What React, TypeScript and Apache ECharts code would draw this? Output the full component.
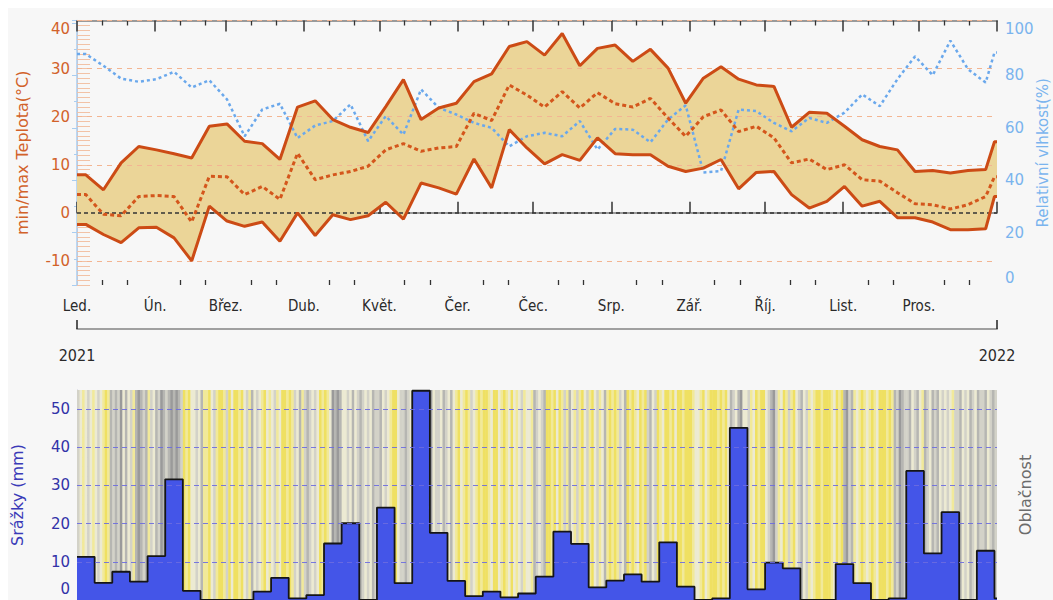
import React, { useEffect, useRef } from 'react';
import * as echarts from 'echarts';

// ---------- labels ----------
const monthNames = ['Led.', 'Ún.', 'Břez.', 'Dub.', 'Květ.', 'Čer.', 'Čec.', 'Srp.', 'Zář.', 'Říj.', 'List.', 'Pros.'];
const yearLabels = ['2021', '2022'];
const tempTicks = [-10, 0, 10, 20, 30, 40];
const precipTicks = [10, 20, 30, 40, 50];

// ---------- weekly data (52 weeks of 2021) ----------
const weeklyMax = [7.9, 4.8, 10.4, 13.8, 13.1, 12.3, 11.4, 18.0, 18.5, 14.9, 14.4, 11.1, 22.0, 23.3, 19.4, 17.8,
  16.7, 22.1, 27.7, 19.4, 21.8, 22.8, 27.3, 28.9, 34.6, 35.6, 32.8, 37.3, 30.6, 34.2, 34.9, 31.5, 34.0, 30.1, 22.8,
  28.0, 30.4, 27.8, 26.6, 26.3, 17.8, 20.9, 20.7, 18.0, 15.2, 13.8, 13.1, 8.6, 8.8, 8.3, 8.8, 9.0];
const weeklyMin = [-2.4, -4.5, -6.2, -3.1, -3.0, -5.2, -10.0, 1.4, -1.7, -2.8, -1.9, -5.9, 0.0, -4.7, -0.4, -1.4,
  -0.6, 2.2, -1.3, 6.2, 5.2, 3.9, 11.2, 5.2, 17.3, 13.5, 10.2, 12.1, 10.9, 15.6, 12.3, 12.1, 12.1, 9.7, 8.6,
  9.3, 11.1, 5.0, 8.4, 8.6, 3.8, 1.0, 2.4, 5.5, 1.4, 2.4, -1.0, -1.0, -1.9, -3.5, -3.5, -3.3];
const weeklyMean = [3.8, -0.3, -0.6, 3.4, 3.6, 3.4, -1.9, 7.6, 7.5, 3.8, 5.5, 2.8, 12.4, 6.9, 7.9, 8.6,
  9.7, 13.1, 14.4, 12.8, 13.5, 13.8, 20.7, 19.2, 26.6, 24.5, 22.0, 25.2, 21.8, 25.0, 22.7, 22.0, 23.8, 19.7, 15.9,
  20.0, 21.4, 16.9, 18.0, 15.6, 10.4, 11.2, 9.0, 10.0, 6.9, 6.6, 4.2, 1.9, 1.7, 0.8, 1.7, 3.4];
const weeklyHumidity = [88.2, 83.7, 78.8, 77.6, 78.6, 81.4, 75.4, 78.2, 70.9, 56.8, 67.0, 69.2, 56.1, 60.9, 62.6, 69.0,
  54.9, 64.5, 57.4, 74.7, 67.7, 65.1, 61.9, 60.0, 52.9, 56.8, 58.1, 56.8, 62.6, 51.7, 59.6, 59.3, 54.5, 63.2, 68.6,
  43.0, 43.5, 67.0, 66.4, 61.9, 58.7, 63.8, 61.9, 65.8, 72.8, 68.3, 78.6, 87.3, 80.1, 93.3, 82.4, 77.3];
const weeklyPrecip = [11.3, 4.5, 7.4, 4.8, 11.5, 31.6, 2.4, 0, 0, 0, 2.2, 5.8, 0.4, 1.3, 14.8, 20.1,
  0, 24.2, 4.4, 54.8, 17.6, 5.0, 1.0, 2.2, 0.7, 1.7, 6.1, 17.9, 14.7, 3.3, 5.1, 6.7, 4.8, 15.1, 3.5,
  0, 0.4, 45.1, 2.8, 9.8, 8.3, 0, 0, 9.4, 4.4, 0, 0.4, 33.8, 12.2, 23.0, 0, 12.9];
// last (partial) period: 31 Dec
const lastMax = 14.8;
const lastMin = 3.4;
const lastMean = 7.5;
const lastHumidity = 88.8;
const lastPrecip = 0.4;

// ---------- daily cloudiness (0 = clear ... 5 = overcast), Jan 1 .. Dec 31 ----------
const cloudJanMar = [3,2,1,2,3, 2,1,2,3,2, 1,0,1, 4,3,4,3,5, 2,4,2,3,1, 4,5,4,3,4, 1,3,2,4,3, 5,4,3,4,5, 4,5,4,3,
  0,1,0,2, 2,3,2,4,1, 1,0,2,3,1, 0,0,1,3,0,2, 0,0,1,0,2, 3,1,4,2, 3,2];
const cloudMarMay = [1,0,2,1, 2,3,1,2, 0,0,1,0,1, 3,2,4,1,3, 4,3,2,3,2, 0,1,0,1,2, 5,4,5,4, 2,2,3,2, 4,2,3,4,3,
  2,3,2,4,3, 3,4,2,3,2, 1,0,0,2,3, 3,4,3,2,4,3,3,4,2, 4,3,5,2,3, 3,2,4];
const cloudMayAug = [3,2,4,2, 1,0,2,1,0,1, 3,2,1, 0,1,0,0,1,2,0, 0,2,1,0,1,2,0, 2,1,2,3,1,2,2,1, 4,3,2,3,4,
  0,0,1,0,2,0,1, 3,1,4,2,1,3, 1,0,2,3,1,0,2, 3,1,2,4,1,0,1, 0,1,3,2,4,0];
const cloudAugOct = [1,0,1,2,0,1,0, 3,4,2,3, 0,1,2,0,0,1,0,2, 0,0,1,0,0,0,1,2, 2,1,0,2,1, 0,0,0,1,0,1,0,2,
  4,3,2,4,5, 2,2,3,1,2, 0,1,0,0,2, 3,4,5,3, 1,2,0,1,3,1,0, 2,3,4,2,3,1,2];
const cloudOctDec = [1,0,0,1,0,0,0,1,2,0,1,0, 4,5,3,4, 1,2,1,0,1,2,1,0,1,2,0, 0,0,1,0,1, 4,3,5,4,3, 3,4,2,3,4,
  2,1,4,3,2, 4,3,4,2,3, 2,3,2,1,3, 3,4,2,3,2,4,3,2, 4,3,3,4,2,3,4, 3];

const CLOUD_COLORS = ['#efe062', '#f1e99a', '#ecead2', '#d3d2c8', '#b6b6b2', '#9a9a9a'];
const ORANGE = '#cc4b15';
const GRID_BLUE = '#6c6ce0';
const FONT = 'DejaVu Sans, Noto Sans, sans-serif';
const COND = '"DejaVu Sans Condensed", "Liberation Sans Narrow", "DejaVu Sans", sans-serif';

const DAY = 86400000;
const yearStart = Date.UTC(2021, 0, 1);
const yearDays = (Date.UTC(2022, 0, 1) - yearStart) / DAY;
const monthStartDays = monthNames.map((_, m) => (Date.UTC(2021, m, 1) - yearStart) / DAY);
const minorTickDays = monthStartDays.flatMap((d) => [d + 10, d + 20]);
const lastDayIdx = yearDays - 1;

function weeklyPoints(weekly: number[], last: number) {
  return [[0, weekly[0]], ...weekly.map((v, k) => [7 * k + 3.5, v]), [lastDayIdx, last], [yearDays, last]];
}

function buildOption() {
  const cloud = [...cloudJanMar, ...cloudMarMay, ...cloudMayAug, ...cloudAugOct, ...cloudOctDec];
  const cloudData = cloud.map((c, d) => [d, c]);
  const maxPts = weeklyPoints(weeklyMax, lastMax);
  const minPts = weeklyPoints(weeklyMin, lastMin);
  const precipData = [...weeklyPrecip.map((v, k) => [7 * k, v]), [lastDayIdx, lastPrecip], [yearDays, lastPrecip]];
  const gridLine = { color: GRID_BLUE, type: [5, 4], width: 1, opacity: 0.9 };

  const xBase = { type: 'value', min: 0, max: yearDays, splitLine: { show: false } };

  return {
    animation: false,
    backgroundColor: '#f7f7f7',
    textStyle: { fontFamily: FONT },
    grid: [
      { left: 69, top: 12.5, width: 920, height: 264.5, containLabel: false, outerBoundsMode: 'none' },
      { left: 69, top: 382, width: 920, height: 210, containLabel: false, outerBoundsMode: 'none' },
    ],
    xAxis: [
      { ...xBase, gridIndex: 0, position: 'bottom',
        axisLine: { show: true, lineStyle: { color: '#9a9a9a', width: 2 } },
        axisTick: { show: true, inside: true, length: 11, customValues: [...monthStartDays, yearDays], lineStyle: { color: '#333', width: 1.5 } },
        axisLabel: { show: true, customValues: monthStartDays, margin: 13, color: '#2a2a2a', fontSize: 15, fontFamily: COND,
          formatter: (v: number) => monthNames[monthStartDays.indexOf(v)] ?? '' } },
      { ...xBase, gridIndex: 0, position: 'bottom',
        axisLine: { show: false },
        axisTick: { show: true, inside: true, length: 5, customValues: minorTickDays, lineStyle: { color: '#333', width: 1.3 } },
        axisLabel: { show: false } },
      { ...xBase, gridIndex: 0, position: 'top',
        axisLine: { show: true, lineStyle: { color: '#9a9a9a', width: 2 } },
        axisTick: { show: true, inside: true, length: 11, customValues: [...monthStartDays, yearDays], lineStyle: { color: '#333', width: 1.5 } },
        axisLabel: { show: false } },
      { ...xBase, gridIndex: 0, position: 'top',
        axisLine: { show: false },
        axisTick: { show: true, inside: true, length: 5, customValues: minorTickDays, lineStyle: { color: '#333', width: 1.3 } },
        axisLabel: { show: false } },
      { ...xBase, gridIndex: 0, position: 'bottom', offset: 44,
        axisLine: { show: true, lineStyle: { color: '#a0a0a0', width: 2 } },
        axisTick: { show: true, inside: true, length: 9, customValues: [0, yearDays], lineStyle: { color: '#222', width: 1.5 } },
        axisLabel: { show: true, customValues: [0, yearDays], margin: 18, color: '#2a2a2a', fontSize: 16, fontFamily: COND,
          formatter: (v: number) => (v === 0 ? yearLabels[0] : yearLabels[1]) } },
      { ...xBase, gridIndex: 1, show: false },
    ],
    yAxis: [
      { type: 'value', gridIndex: 0, min: -15, max: 40, interval: 5, position: 'left',
        name: 'min/max Teplota(°C)', nameLocation: 'middle', nameGap: 47, nameMoveOverlap: false,
        nameTextStyle: { color: '#d2622a', fontSize: 16, fontFamily: FONT },
        axisLine: { show: true, lineStyle: { color: '#f2c2a6', width: 1 } },
        axisTick: { show: true, inside: true, length: 13, lineStyle: { color: '#f2c2a6', width: 1 } },
        minorTick: { show: true, splitNumber: 5, length: 13, lineStyle: { color: '#f2c2a6', width: 1 } },
        splitLine: { show: false },
        axisLabel: { color: '#d2622a', fontSize: 15, margin: 7,
          formatter: (v: number) => (tempTicks.includes(v) ? (v === 40 ? '{t|40}' : String(v)) : ''),
          rich: { t: { padding: [16, 0, 0, 0], color: '#d2622a', fontSize: 15 } } } },
      { type: 'value', gridIndex: 0, min: 0, max: 101, interval: 20, position: 'right',
        name: 'Relativní vlhkost(%)', nameLocation: 'middle', nameGap: 38, nameMoveOverlap: false,
        nameTextStyle: { color: '#7ab4ee', fontSize: 15, fontFamily: FONT },
        axisLine: { show: true, lineStyle: { color: '#a9cdf0', width: 1.5 } },
        axisTick: { show: true, inside: true, length: 5, lineStyle: { color: '#a9cdf0' } },
        minorTick: { show: true, splitNumber: 2, length: 3, lineStyle: { color: '#a9cdf0' } },
        splitLine: { show: false },
        axisLabel: { color: '#7ab4ee', fontSize: 15, margin: 8, showMaxLabel: false,
          formatter: (v: number) => (v === 0 ? '{b|0}' : v === 100 ? '{t|100}' : String(v)),
          rich: { b: { padding: [0, 0, 14, 0], color: '#7ab4ee', fontSize: 15 }, t: { padding: [12, 0, 0, 0], color: '#7ab4ee', fontSize: 15 } } } },
      { type: 'value', gridIndex: 1, min: 0, max: 55, interval: 10, position: 'left',
        name: 'Srážky (mm)', nameLocation: 'middle', nameGap: 52, nameMoveOverlap: false,
        nameTextStyle: { color: '#3a3ab8', fontSize: 16, fontFamily: FONT },
        axisLine: { show: true, lineStyle: { color: '#c4c4d8', width: 1 } },
        axisTick: { show: true, inside: true, length: 13, lineStyle: { color: '#b4b4cc' } },
        minorTick: { show: true, splitNumber: 4, length: 13, lineStyle: { color: '#b4b4cc' } },
        splitLine: { show: false },
        axisLabel: { color: '#3232a8', fontSize: 15, margin: 7, showMaxLabel: false,
          formatter: (v: number) => (v === 0 ? '{b|0}' : String(v)),
          rich: { b: { padding: [0, 0, 22, 0], color: '#3232a8', fontSize: 15 } } } },
      { type: 'value', gridIndex: 1, min: 0, max: 1, position: 'right',
        name: 'Oblačnost', nameLocation: 'middle', nameGap: 20, nameMoveOverlap: false,
        nameTextStyle: { color: '#6b6b6b', fontSize: 16, fontFamily: FONT },
        axisLine: { show: false }, axisTick: { show: false }, axisLabel: { show: false }, splitLine: { show: false } },
    ],
    series: [
      { type: 'custom', name: 'band', xAxisIndex: 0, yAxisIndex: 0, data: [[0, 0]], z: 1, silent: true,
        renderItem: (params: any, api: any) => {
          if (params.dataIndex !== 0) return null;
          const pts = [...maxPts.map((p) => api.coord(p)), ...minPts.slice().reverse().map((p) => api.coord(p))];
          return { type: 'polygon', shape: { points: pts }, style: { fill: '#ebd598' } };
        },
        markLine: { silent: true, symbol: ['none', 'none'], z: 2, label: { show: false },
          data: [
            ...tempTicks.filter((v) => v !== 0).map((v) => ({ yAxis: v, lineStyle: { color: '#f3b592', type: [5, 5], width: 1 } })),
            { yAxis: 0, lineStyle: { color: '#333', type: [4, 3], width: 1.5 } },
          ] } },
      { type: 'line', name: 'humidity', xAxisIndex: 0, yAxisIndex: 1, data: weeklyPoints(weeklyHumidity, lastHumidity),
        symbol: 'none', lineStyle: { color: '#6aa8ec', width: 2.5, type: [3, 3] }, z: 3 },
      { type: 'line', name: 'mean', xAxisIndex: 0, yAxisIndex: 0, data: weeklyPoints(weeklyMean, lastMean),
        symbol: 'none', lineStyle: { color: '#d4561c', width: 3, type: [4, 3] }, z: 4 },
      { type: 'line', name: 'max', xAxisIndex: 0, yAxisIndex: 0, data: maxPts,
        symbol: 'none', lineStyle: { color: ORANGE, width: 3 }, z: 5 },
      { type: 'line', name: 'min', xAxisIndex: 0, yAxisIndex: 0, data: minPts,
        symbol: 'none', lineStyle: { color: ORANGE, width: 3 }, z: 5 },
      { type: 'custom', name: 'cloud', xAxisIndex: 5, yAxisIndex: 2, data: cloudData, z: 1, silent: true, clip: true,
        renderItem: (_p: any, api: any) => {
          const d = api.value(0);
          const lvl = api.value(1);
          const p0 = api.coord([d, 55]);
          const p1 = api.coord([d + 1, 0]);
          return { type: 'rect', shape: { x: p0[0], y: p0[1], width: p1[0] - p0[0] + 0.5, height: p1[1] - p0[1] },
            style: { fill: CLOUD_COLORS[lvl] } };
        } },
      { type: 'line', name: 'precip', xAxisIndex: 5, yAxisIndex: 2, data: precipData, step: 'end', color: GRID_BLUE,
        symbol: 'none', lineStyle: { color: '#151515', width: 1.8 }, areaStyle: { color: '#4455e8', opacity: 1 }, z: 2,
        markLine: { silent: true, symbol: ['none', 'none'], label: { show: false }, lineStyle: gridLine,
          data: precipTicks.map((v) => ({ yAxis: v, lineStyle: gridLine })) } },
    ],
  };
}

export default function App() {
  const ref = useRef<HTMLDivElement>(null);
  useEffect(() => {
    if (!ref.current) return;
    const chart = echarts.init(ref.current, null, { renderer: 'svg' });
    chart.setOption(buildOption() as any);
    return () => chart.dispose();
  }, []);
  return (
    <div ref={ref} style={{ position: 'fixed', left: 8, top: 8, width: 1045, height: 592, background: '#f7f7f7' }} />
  );
}
